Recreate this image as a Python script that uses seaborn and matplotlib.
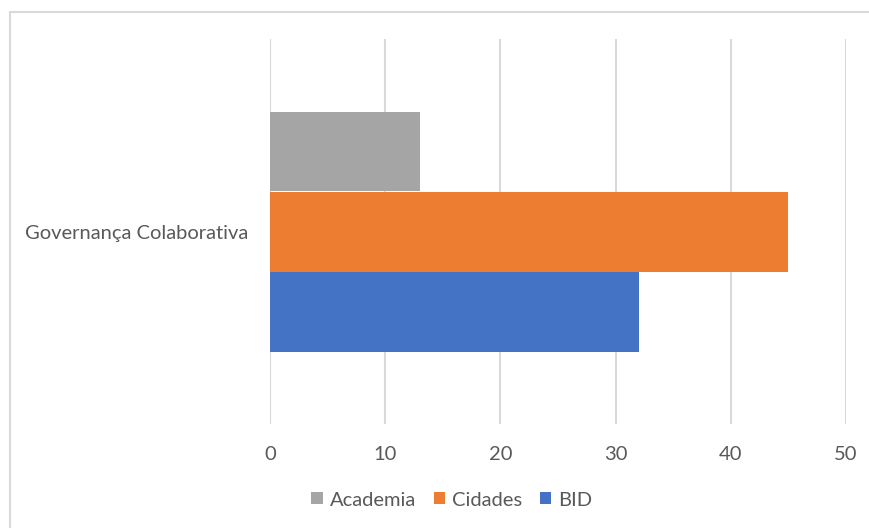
import matplotlib
matplotlib.use("Agg")
import matplotlib.pyplot as plt
import seaborn as sns
import pandas as pd
from matplotlib.patches import Rectangle, Patch

# Data
category = ["Governança Colaborativa"]
series = ["Academia", "Cidades", "BID"]
values = [13, 45, 32]
colors = ["#A5A5A5", "#ED7D31", "#4472C4"]
x_ticks = [0, 10, 20, 30, 40, 50]

df = pd.DataFrame({
    "categoria": category * len(series),
    "serie": series,
    "valor": values,
})

sns.set_theme(style="white")
plt.rcParams["font.family"] = ["Lato", "DejaVu Sans"]
text_color = "#595959"

W, H = 869, 528
fig = plt.figure(figsize=(W / 100, H / 100), dpi=100)
ax = fig.add_axes([270 / W, (H - 424) / H, (846 - 270) / W, (424 - 39) / H])

sns.barplot(
    data=df, y="categoria", x="valor", hue="serie", hue_order=series,
    palette=colors, orient="h", width=240 / 385, saturation=1,
    linewidth=0, ax=ax, legend=False,
)

ax.set_xlim(0, 50)
ax.set_ylim(0.5, -0.5)
ax.set_xticks(x_ticks)
ax.set_xticklabels([str(t) for t in x_ticks])
ax.set_xlabel("")
ax.set_ylabel("")
ax.grid(axis="x", color="#D9D9D9", linewidth=1.5)
ax.set_axisbelow(True)
for s in ax.spines.values():
    s.set_visible(False)
ax.tick_params(axis="both", length=0, labelsize=14.5, labelcolor=text_color)
ax.tick_params(axis="x", pad=16)
ax.tick_params(axis="y", pad=16)

# Legend below the axis
handles = [Patch(facecolor=c, edgecolor="none") for c in colors]
fig.legend(
    handles, series, loc="center", bbox_to_anchor=(452 / W, (H - 500) / H),
    ncol=3, frameon=False, fontsize=14.5, handlelength=0.55, handleheight=0.55,
    handletextpad=0.35, columnspacing=0.9, labelcolor=text_color,
)

# Chart area border
fig.add_artist(Rectangle((10 / W, -0.1), 1.2, (H - 12) / H + 0.1,
                         transform=fig.transFigure, fill=False,
                         edgecolor="#D9D9D9", linewidth=1.5))

fig.savefig("out.png", dpi=100)
